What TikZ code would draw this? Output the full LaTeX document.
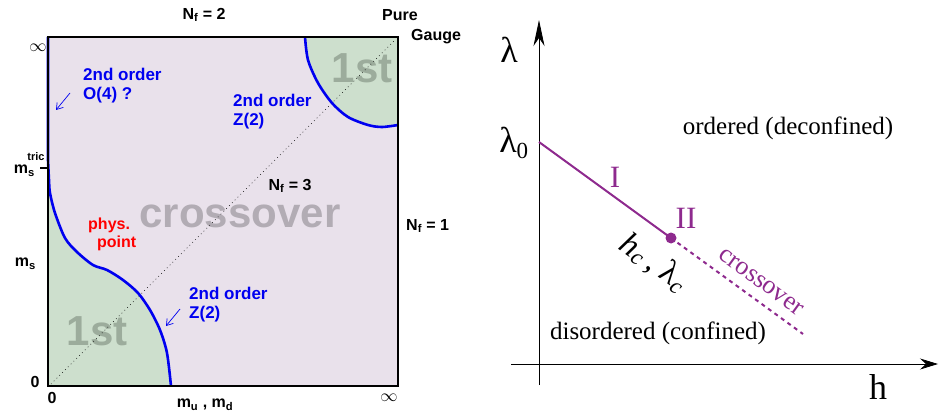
\documentclass[tikz,border=0pt]{standalone}
\usepackage{fontspec}
\setmainfont{Liberation Serif}
\setsansfont{Liberation Sans}
\usetikzlibrary{arrows.meta}
\definecolor{lav}{HTML}{E9E1EB}
\definecolor{grn}{HTML}{CDDFCD}
\definecolor{bl}{HTML}{0000F0}
\definecolor{pur}{HTML}{8E2A8E}
\definecolor{txtgray}{HTML}{B2ACB4}
\definecolor{stgray}{HTML}{9CAC9C}
\tikzset{
  lab/.style={font=\sffamily\bfseries\fontsize{16}{18}\selectfont, inner sep=0pt},
  bluelab/.style={font=\sffamily\bfseries\fontsize{17}{19}\selectfont, text=bl, align=left, inner sep=0pt},
  biggray/.style={font=\sffamily\bfseries\fontsize{42}{46}\selectfont, inner sep=0pt},
  serif/.style={font=\fontsize{22}{24}\selectfont, inner sep=0pt},
  thinarrow/.style={bl, line width=0.7pt, -{Straight Barb[length=6pt,width=8pt]}},
}
\def\llcurve{(48,160) (49,180) (50,193) (55,213) (65,238) (77,252) (93,265) (107,270) (123,280) (138,293) (150,310) (160,330) (167,353) (171,386)}
\def\urcurve{(305,37) (308,60) (318,83) (332,103) (348,117) (368,125) (382,127) (398,125)}
\begin{document}
\begin{tikzpicture}[x=1pt,y=-1pt]
\useasboundingbox (0,0) rectangle (939,414);
% ---------- left panel ----------
\fill[lav] (48,37) rectangle (398,386);
\fill[grn] plot[smooth] coordinates {\llcurve} -- (48,386) -- cycle;
\fill[grn] plot[smooth] coordinates {\urcurve} -- (398,37) -- cycle;
\node[biggray, text=txtgray] (cross) at (240,216) {crossover};
\node[biggray, text=stgray] (first1) at (97,331) {1st};
\node[biggray, text=stgray] (first2) at (362,68) {1st};
\coordinate (d0) at (51,384);
\coordinate (d1) at (396,39);
\draw[black, line width=0.7pt, dash pattern=on 0.7pt off 3.3pt] (d0) -- (d1);
\draw[bl, line width=2.6pt] (48,37) -- (48,160) plot[smooth] coordinates {\llcurve};
\draw[bl, line width=2.6pt] plot[smooth] coordinates {\urcurve};
\draw[black, line width=2.8pt] (48,37) rectangle (398,386);
\coordinate (tick) at (40,168);
\draw[black, line width=2.5pt] (tick) -- (48,168);
% arrows
\coordinate (a1s) at (70,93);
\coordinate (a1e) at (56,110);
\draw[thinarrow] (a1s) -- (a1e);
\coordinate (a2s) at (180,309);
\coordinate (a2e) at (166,326);
\draw[thinarrow] (a2s) -- (a2e);
% labels
\node[lab] (nf2) at (204,15) {N\textsubscript{f} = 2};
\node[lab, anchor=west] (pure) at (382,15) {Pure};
\node[lab, anchor=west] (gauge) at (411,37) {Gauge};
\node[lab, font=\fontsize{19}{19}\selectfont] (inf1) at (38,48) {$\infty$};
\node[bluelab, anchor=west] (o4) at (83,86) {2nd order\\O(4) ?};
\node[bluelab, anchor=west] (z2a) at (233,112) {2nd order\\Z(2)};
\node[bluelab, anchor=west] (z2b) at (189,305) {2nd order\\Z(2)};
\node[lab, anchor=east] (mtric) at (35,171) {m\textsubscript{s}};
\node[lab, font=\sffamily\bfseries\fontsize{11}{12}\selectfont] (tric) at (36,157) {tric};
\node[lab] (nf3) at (290,186) {N\textsubscript{f} = 3};
\node[lab, anchor=west] (nf1) at (406,226) {N\textsubscript{f} = 1};
\node[lab, text=red, align=left, anchor=west] (phys) at (88,234) {phys.\\\ \ point};
\node[lab, anchor=east] (ms) at (36,264) {m\textsubscript{s}};
\node[lab] (zero1) at (35,382) {0};
\node[lab] (zero2) at (52,398) {0};
\node[lab] (mud) at (205,405) {m\textsubscript{u} , m\textsubscript{d}};
\node[lab, font=\fontsize{19}{19}\selectfont] (inf2) at (389,398) {$\infty$};
% ---------- right panel ----------
\coordinate (xs) at (511,364);
\coordinate (xe) at (938,364);
\coordinate (ys) at (539,385);
\coordinate (ye) at (539,20);
\draw[line width=0.8pt, -{Stealth[length=18pt,width=11pt,inset=6pt]}] (xs) -- (xe);
\draw[line width=0.8pt, -{Stealth[length=26pt,width=11pt,inset=8pt]}] (ys) -- (ye);
\coordinate (l0) at (539,142);
\node[circle, fill=pur, inner sep=0pt, minimum size=11pt] (crit) at (671,238) {};
\coordinate (dend) at (803,334);
\draw[pur, line width=2pt] (l0) -- (crit.center);
\draw[pur, line width=2pt, dash pattern=on 4pt off 4pt] (crit.center) -- (dend);
\node[serif, font=\fontsize{36}{36}\selectfont] (lam) at (509,50) {λ};
\node[serif, font=\fontsize{36}{36}\selectfont] (lam0) at (514,143) {λ\textsubscript{\fontsize{23}{23}\selectfont 0}};
\node[serif, font=\fontsize{31}{31}\selectfont, text=pur] (one) at (615,177) {I};
\node[serif, font=\fontsize{31}{31}\selectfont, text=pur] (two) at (686,218) {II};
\node[serif, font=\fontsize{33}{33}\selectfont, rotate=-36] (hc) at (654,263) {\textit{h}\textsubscript{\textit{c}}\,, λ\textsubscript{\textit{c}}};
\node[serif, font=\fontsize{26}{26}\selectfont, text=pur, rotate=-36] (cr) at (761,282) {crossover};
\node[serif, font=\fontsize{25}{25}\selectfont] (ord) at (788,128) {ordered (deconfined)};
\node[serif, font=\fontsize{25}{25}\selectfont] (dis) at (658,333) {disordered (confined)};
\node[serif, font=\fontsize{36}{36}\selectfont] (h) at (878,387) {h};
\end{tikzpicture}
\end{document}
